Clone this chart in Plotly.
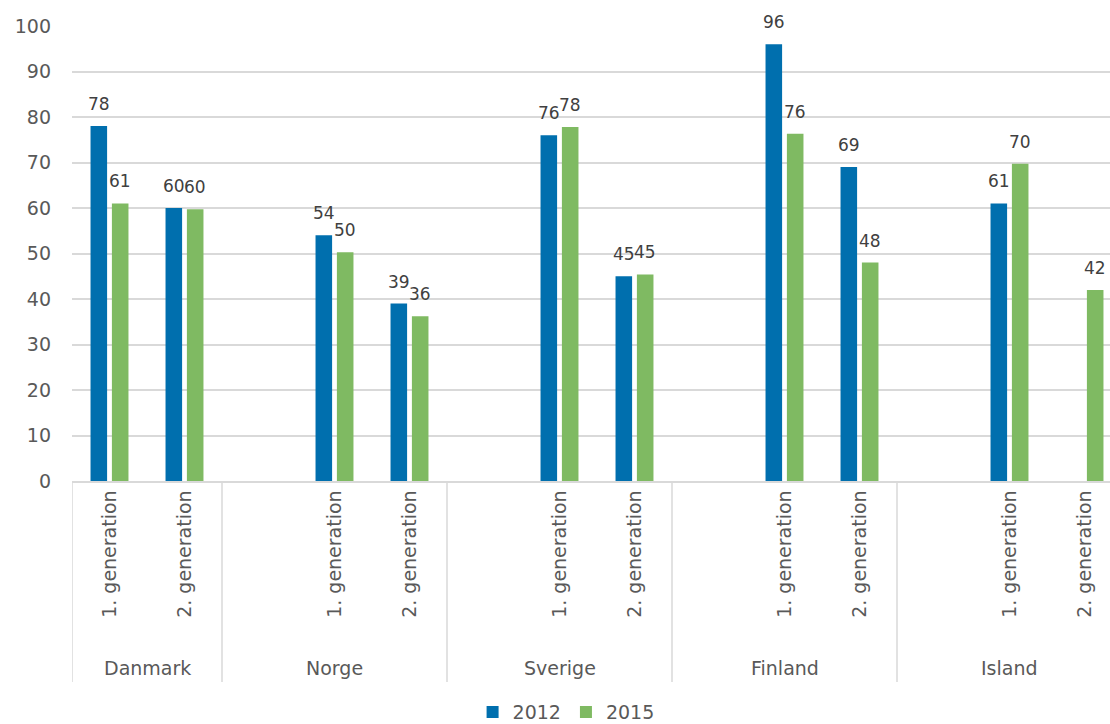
import plotly.graph_objects as go

countries = ["Danmark", "Norge", "Sverige", "Finland", "Island"]
generations = ["1. generation", "2. generation"]
series_names = ["2012", "2015"]
values_2012 = [78, 60, 54, 39, 76, 45, 96, 69, 61, None]
values_2015 = [61, 59.7, 50.3, 36.2, 77.8, 45.4, 76.3, 48, 69.7, 42]
colors = ["#006FAE", "#7FBA62"]

# categories: each country (except the first) starts with an empty slot
cats, tickvals, ticktext = [], [], []
group_bounds = []
slot = {}
for ci, c in enumerate(countries):
    start = len(cats)
    if ci > 0:
        cats.append(c + "|")
    for g in generations:
        key = c + "|" + g
        slot[(c, g)] = key
        cats.append(key)
        tickvals.append(key)
        ticktext.append(g)
    group_bounds.append((start, len(cats)))

xs = [slot[(c, g)] for c in countries for g in generations]

W, H = 1110, 724
ML, MR, MT, MB = 72, 0, 26, 243
XR = [-0.5, 13.34]
BARGAP, BARGROUPGAP = 0.43, 0.225
FONT = "DejaVu Sans, Liberation Sans, sans-serif"
TXT = "#595959"
FS = 19

fig = go.Figure()
for name, vals, col in zip(series_names, [values_2012, values_2015], colors):
    fig.add_trace(go.Bar(x=xs, y=vals, name=name, marker_color=col, marker_line_width=0,
                         cliponaxis=False))

cat_px = (W - ML - MR) / (XR[1] - XR[0])
off = (1 - BARGAP) / 4 * cat_px
anns = []
for si, vals in enumerate([values_2012, values_2015]):
    for x, v in zip(xs, vals):
        if v is None:
            continue
        anns.append(dict(x=x, y=v, xref="x", yref="y", text=f"{v:.0f}", showarrow=False,
                         xshift=(-off if si == 0 else off), yshift=10, yanchor="bottom",
                         font=dict(family=FONT, size=17, color="#404040")))

shapes = []
for gi, (s, e) in enumerate(group_bounds):
    anns.append(dict(x=(s + e - 1) / 2, y=-0.411, xref="x", yref="paper", text=countries[gi],
                     showarrow=False, yanchor="middle", font=dict(family=FONT, size=FS, color=TXT)))
    shapes.append(dict(type="line", xref="x", yref="paper", x0=s - 0.5, x1=s - 0.5, y0=0, y1=-0.442,
                       line=dict(color="#d9d9d9", width=1.5)))

fig.update_layout(
    width=W, height=H,
    margin=dict(l=ML, r=MR, t=MT, b=MB, autoexpand=False),
    plot_bgcolor="white", paper_bgcolor="white",
    barmode="group", bargap=BARGAP, bargroupgap=BARGROUPGAP,
    font=dict(family=FONT, size=FS, color=TXT),
    annotations=anns, shapes=shapes,
    legend=dict(orientation="h", x=0.476, xanchor="center", y=-0.508, yanchor="middle",
                font=dict(family=FONT, size=FS, color=TXT), itemwidth=30, tracegroupgap=0),
    xaxis=dict(type="category", categoryorder="array", categoryarray=cats, automargin=False,
               tickmode="array", tickvals=tickvals, ticktext=ticktext, tickangle=-90,
               showline=True, linecolor="#d9d9d9", linewidth=1.5, showgrid=False,
               ticks="", tickfont=dict(family=FONT, size=FS, color=TXT), range=XR),
    yaxis=dict(range=[0, 100], dtick=10, showgrid=True, gridcolor="#d9d9d9", gridwidth=1.5,
               zeroline=False, showline=False, ticks="", ticklabelstandoff=20, automargin=False,
               tickfont=dict(family=FONT, size=FS, color=TXT)),
)

fig.write_html("out.html", config={"displayModeBar": False},
               post_script="document.body.style.margin='0';document.body.style.overflow='hidden';")
